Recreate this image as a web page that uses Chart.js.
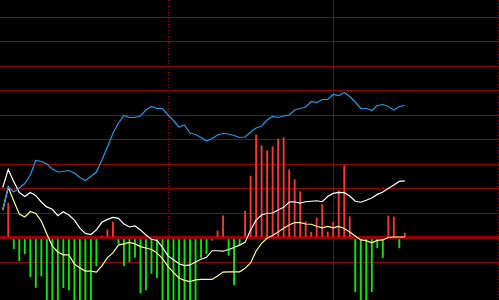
<!DOCTYPE html>
<html>
<head>
<meta charset="utf-8">
<script src="https://cdn.jsdelivr.net/npm/chart.js@4.4.1/dist/chart.umd.min.js"></script>
<style>
  html, body { margin: 0; padding: 0; background: #000; }
  #wrap { width: 499px; height: 300px; }
</style>
</head>
<body>
<div id="wrap"><canvas id="macd" width="499" height="300"></canvas></div>
<script>
// price line (own axis)
const price = [9.80, 10.26, 10.16, 10.24, 10.33, 10.50, 10.79, 10.77, 10.72, 10.62,
  10.56, 10.57, 10.59, 10.54, 10.45, 10.39, 10.47, 10.56, 10.80, 11.06,
  11.33, 11.54, 11.69, 11.65, 11.65, 11.68, 11.80, 11.87, 11.83, 11.83,
  11.70, 11.59, 11.46, 11.50, 11.34, 11.31, 11.25, 11.18, 11.23, 11.30,
  11.33, 11.32, 11.29, 11.25, 11.26, 11.36, 11.44, 11.48, 11.60, 11.67,
  11.65, 11.68, 11.70, 11.80, 11.83, 11.86, 11.97, 11.95, 12.01, 12.01,
  12.11, 12.09, 12.15, 12.07, 11.96, 11.83, 11.83, 11.79, 11.89, 11.91,
  11.87, 11.80, 11.87, 11.89];

// DIF (white)
const dif = [2.06, 2.80, 2.30, 1.86, 1.69, 1.86, 1.73, 1.47, 1.27, 1.17,
  0.91, 1.07, 0.94, 0.73, 0.40, 0.19, 0.14, 0.33, 0.64, 0.76,
  0.84, 0.80, 0.57, 0.45, 0.49, 0.33, 0.12, -0.05, -0.10, -0.38,
  -0.73, -0.89, -1.05, -1.13, -1.10, -0.98, -0.87, -0.79, -0.52, -0.52,
  -0.54, -0.47, -0.39, -0.29, -0.18, 0.33, 0.73, 0.94, 1.01, 1.02,
  1.14, 1.25, 1.47, 1.48, 1.42, 1.48, 1.50, 1.52, 1.48, 1.69,
  1.82, 1.86, 1.85, 1.71, 1.50, 1.46, 1.54, 1.63, 1.78, 1.88,
  2.02, 2.16, 2.31, 2.33];

// DEA (yellow)
const dea = [1.14, 2.07, 1.51, 0.98, 0.86, 1.08, 1.00, 0.69, 0.16, -0.33,
  -0.57, -0.69, -0.69, -1.06, -1.22, -1.35, -1.35, -1.39, -1.14, -0.80,
  -0.61, -0.29, -0.24, -0.18, -0.24, -0.35, -0.41, -0.47, -0.61, -0.84,
  -1.16, -1.41, -1.63, -1.73, -1.78, -1.71, -1.69, -1.69, -1.69, -1.55,
  -1.39, -1.38, -1.38, -1.38, -1.24, -1.02, -0.53, -0.22, 0.00, 0.10,
  0.24, 0.40, 0.53, 0.63, 0.63, 0.57, 0.56, 0.48, 0.41, 0.47,
  0.41, 0.47, 0.39, 0.24, 0.08, -0.08, -0.11, -0.20, -0.10, -0.08,
  0.02, 0.04, 0.04, 0.04];

// MACD histogram
const hist = [0, 1.42, -0.44, -0.93, -0.64, -1.58, -2.02, -1.55, -2.8, -2.9,
  -2.8, -2.03, -2.12, -2.7, -2.8, -2.9, -2.7, -1.13, 0.08, 0.33,
  0.65, -0.24, -1.13, -0.97, -0.78, -2.24, -2.12, -1.45, -1.62, -2.8,
  -2.9, -2.8, -2.9, -2.8, -2.9, -2.8, -0.80, -0.65, -0.09, 0.29,
  0.90, -0.71, -1.91, -0.26, 1.10, 2.53, 4.20, 3.77, 3.56, 3.73,
  4.04, 4.09, 2.78, 2.38, 1.89, 0.66, 0.24, 0.82, 1.36, 0.25,
  0.65, 1.93, 2.95, 0.87, -2.19, -2.8, -2.7, -2.19, -0.40, -0.80,
  0.90, 0.86, -0.40, 0.20];

// period separators (x index)
const dottedMarks = [30, 90];
const solidMarks = [60];

const xy = arr => arr.map((v, i) => ({ x: i, y: v }));

const gridRed = '#960000';

const markerPlugin = {
  id: 'markers',
  beforeDatasetsDraw(chart) {
    const { ctx, chartArea, scales } = chart;
    ctx.save();
    ctx.strokeStyle = gridRed;
    ctx.lineWidth = 1;
    const draw = (idx, dash) => {
      const px = Math.round(scales.x.getPixelForValue(idx)) + 0.5;
      ctx.setLineDash(dash);
      ctx.beginPath();
      ctx.moveTo(px, chartArea.top);
      ctx.lineTo(px, chartArea.bottom);
      ctx.stroke();
    };
    dottedMarks.forEach(i => draw(i, [1, 2]));
    solidMarks.forEach(i => draw(i, []));
    ctx.restore();
  }
};

new Chart(document.getElementById('macd'), {
  data: {
    datasets: [{
      type: 'line',
      data: xy(price),
      yAxisID: 'y2',
      borderColor: '#1e9be6',
      borderWidth: 1.2,
      pointRadius: 0,
      tension: 0
    }, {
      type: 'line',
      data: xy(dif),
      borderColor: '#ffffff',
      borderWidth: 1.2,
      pointRadius: 0,
      tension: 0
    }, {
      type: 'line',
      data: xy(dea),
      borderColor: '#ffff8c',
      borderWidth: 1.2,
      pointRadius: 0,
      tension: 0
    }, {
      type: 'bar',
      data: xy(hist),
      barThickness: 1.2,
      backgroundColor: c => (c.raw && c.raw.y >= 0) ? '#ff3434' : '#00f000'
    }]
  },
  options: {
    responsive: false,
    animation: false,
    devicePixelRatio: 1,
    layout: { padding: 0 },
    plugins: {
      legend: { display: false },
      tooltip: { enabled: false }
    },
    scales: {
      x: {
        type: 'linear',
        min: -0.5,
        max: 90.1,
        offset: false,
        display: false,
        grid: { offset: false }
      },
      y: {
        min: -2.531,
        max: 9.714,
        ticks: { display: false, stepSize: 1 },
        border: { display: false },
        grid: {
          drawTicks: false,
          color: c => c.tick && Number.isInteger(c.tick.value) ? gridRed : 'rgba(0,0,0,0)',
          lineWidth: c => c.tick && c.tick.value === 0 ? 3 : 1
        }
      },
      y2: {
        min: 8,
        max: 14,
        display: false
      }
    }
  },
  plugins: [markerPlugin]
});
</script>
</body>
</html>
